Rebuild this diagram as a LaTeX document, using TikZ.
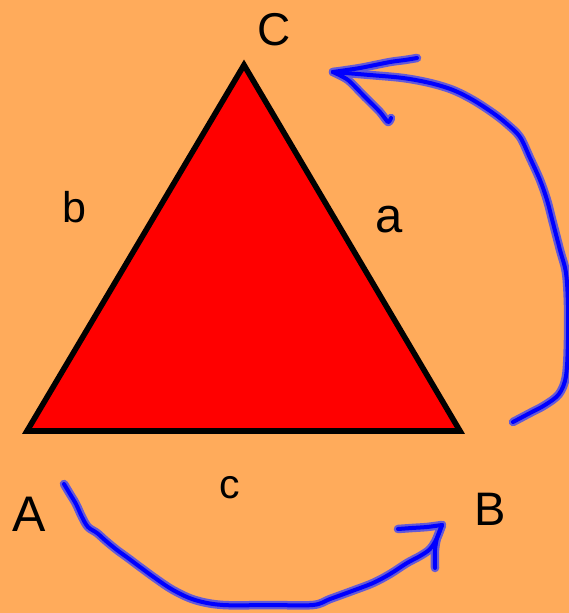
\documentclass[tikz,border=0pt]{standalone}
\usepackage{fontspec}
\setmainfont{Liberation Sans}
\definecolor{bgorange}{RGB}{255,171,91}
\definecolor{penblue}{RGB}{0,0,255}
\definecolor{penhalo}{RGB}{100,90,215}
\tikzset{
  lbl/.style={inner sep=0pt, text=black},
  halo/.style={draw=penhalo, line width=8.5pt, line cap=round, line join=round},
  ink/.style={draw=penblue, line width=4pt, line cap=round, line join=round},
  tri/.style={draw=black, fill=red, line width=5.6pt, line join=miter}
}
\begin{document}
\begin{tikzpicture}[x=1pt,y=-1pt]
\fill[bgorange] (0,0) rectangle (569,613);
\useasboundingbox (0,0) rectangle (569,613);
% triangle
\coordinate (A) at (27,431);
\coordinate (B) at (460,431);
\coordinate (C) at (244,65);
\draw[tri] (A) -- (B) -- (C) -- cycle;
% labels
\node[lbl, font=\fontsize{46}{50}\selectfont] (lC) at (274.5,29.5) {C};
\node[lbl, font=\fontsize{50}{54}\selectfont] (lA) at (29.5,514) {A};
\node[lbl, font=\fontsize{47}{51}\selectfont] (lB) at (490,509) {B};
\node[lbl, font=\fontsize{49}{53}\selectfont] (la) at (389.5,220) {a};
\node[lbl, font=\fontsize{43}{47}\selectfont] (lb) at (74,207.5) {b};
\node[lbl, font=\fontsize{41}{45}\selectfont] (lc) at (229.5,487.5) {c};
% hand-drawn arrow A -> B
\coordinate (s1) at (64,484);
\coordinate (t1) at (442,525);
\foreach \st in {halo,ink}{
  \draw[\st] plot[smooth, tension=0.55] coordinates {(s1) (70,494) (76,504) (82,517) (88,527) (97,533) (106,541) (117,550) (128,558) (140,567) (155,578) (173,590) (195,600) (223,605) (270,605) (313,605) (330,599) (352,591) (373,583) (390,574) (407,563) (420,556) (430,549) (437,538) (t1)};
  \draw[\st] plot[smooth, tension=0.4] coordinates {(398,529) (412,528) (427,527) (t1)};
  \draw[\st] plot[smooth, tension=0.4] coordinates {(t1) (437,538) (435,550) (435,568)};
}
% hand-drawn arrow B -> C
\coordinate (s2) at (513,422);
\coordinate (t2) at (333,72);
\foreach \st in {halo,ink}{
  \draw[\st] plot[smooth, tension=0.55] coordinates {(s2) (530,413) (545,405) (559,394) (566,376) (568,340) (568,305) (566,273) (560,250) (553,223) (547,200) (540,180) (530,158) (520,137) (507,124) (493,113) (473,100) (453,90) (430,83) (403,78) (370,75) (t2)};
  \draw[\st] plot[smooth, tension=0.4] coordinates {(t2) (360,68) (390,62) (405,60) (417,58)};
  \draw[\st] plot[smooth, tension=0.4] coordinates {(t2) (348,80) (365,97) (380,112) (388,122) (391,118)};
}
\end{tikzpicture}
\end{document}
